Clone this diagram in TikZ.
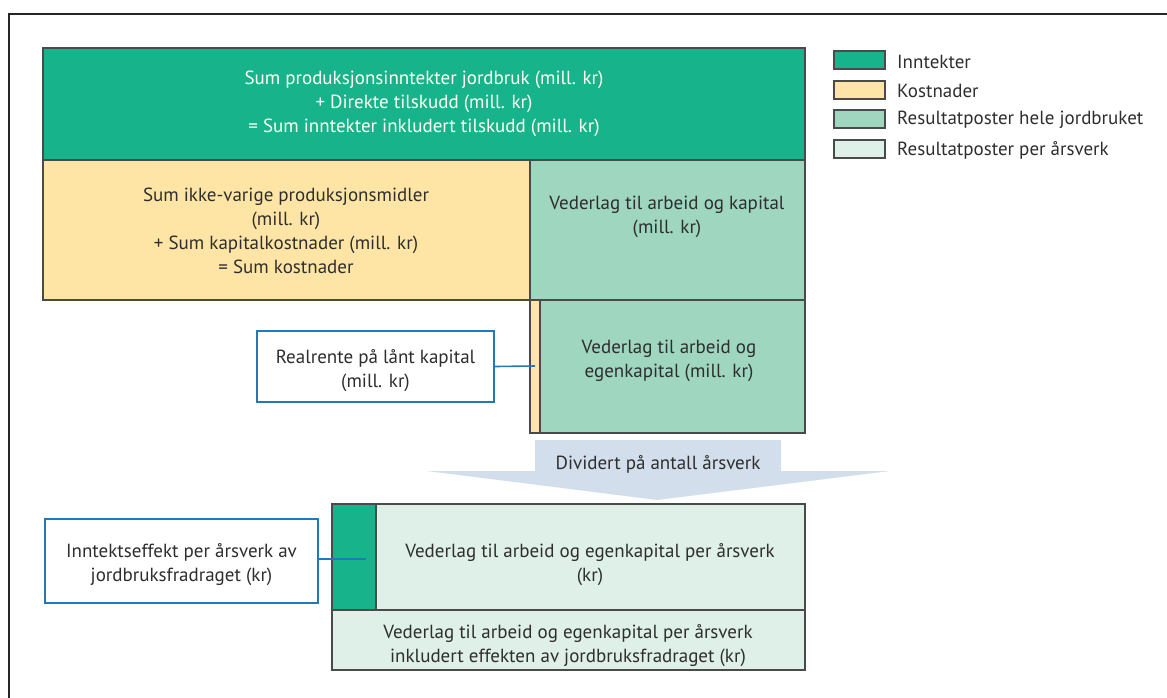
\documentclass[tikz,border=0pt]{standalone}
\usepackage{fontspec}
\setmainfont{PT Sans}
\definecolor{inntG}{HTML}{17B48C}
\definecolor{kostY}{HTML}{FFE5A5}
\definecolor{resG}{HTML}{9ED6BF}
\definecolor{perG}{HTML}{DFF0E8}
\definecolor{boxB}{HTML}{2478B5}
\definecolor{arrB}{HTML}{D3DEEC}
\definecolor{txt}{HTML}{2E2E2E}
\definecolor{edge}{HTML}{4A4A4A}
\begin{document}
\begin{tikzpicture}[x=1pt,y=-1pt,
  blk/.style={draw=edge,line width=1.2pt},
  lbl/.style={align=center,text=txt,font=\fontsize{19}{24}\selectfont,inner sep=0pt,yshift=-2.5pt},
  callout/.style={draw=boxB,line width=1.6pt,fill=white},
  conn/.style={draw=boxB,line width=1.6pt},
  swatch/.style={draw=edge,line width=1.1pt,minimum width=51pt,minimum height=18pt,inner sep=0pt},
  legtxt/.style={anchor=west,text=txt,font=\fontsize{19}{22}\selectfont,inner sep=0pt,yshift=-1.2pt}]
\useasboundingbox (0,0) rectangle (1167,697);
% outer frame
\draw[line width=2pt,draw=black!85] (9,720) -- (9,14) -- (1200,14);
% top income box
\path[blk,fill=inntG] (43,48) rectangle (805,160);
\node[lbl,text=white!94!yellow] (inc) at (424,101) {Sum produksjonsinntekter jordbruk (mill. kr)\\+ Direkte tilskudd (mill. kr)\\= Sum inntekter inkludert tilskudd (mill. kr)};
% costs
\path[blk,fill=kostY] (43,160) rectangle (530,300);
\node[lbl] (cost) at (286,228) {Sum ikke-varige produksjonsmidler\\(mill. kr)\\+ Sum kapitalkostnader (mill. kr)\\= Sum kostnader};
% vederlag arbeid og kapital
\path[blk,fill=resG] (530,160) rectangle (805,300);
\node[lbl] (vak) at (667,214) {Vederlag til arbeid og kapital\\(mill. kr)};
% lower
\path[blk,fill=kostY] (530,300) rectangle (540,433);
\path[blk,fill=resG] (540,300) rectangle (805,433);
\node[lbl] (vaek) at (669,358) {Vederlag til arbeid og\\egenkapital (mill. kr)};
% realrente callout
\node[callout,minimum width=237pt,minimum height=71pt,inner sep=0pt] (real) at (375.5,366.5) {};
\node[lbl] (realt) at (375.5,368) {Realrente på lånt kapital\\(mill. kr)};
\coordinate (realend) at (535,366);
\draw[conn] (real.east) -- (realend);
% arrow
\fill[arrB] (535,440) -- (781,440) -- (781,471) -- (890,471) -- (657,500) -- (427,471) -- (535,471) -- cycle;
\node[lbl,yshift=1.5pt] (div) at (658,463) {Dividert på antall årsverk};
% bottom block
\path[blk,fill=perG] (332,504) rectangle (805,670);
\path[blk,fill=inntG] (332,504) rectangle (376,610);
\draw[blk] (376,504) -- (376,610) -- (805,610);
\draw[blk] (332,610) -- (376,610);
\node[lbl] (vpa) at (590,562) {Vederlag til arbeid og egenkapital per årsverk\\(kr)};
\node[lbl] (vpai) at (568,643.5) {Vederlag til arbeid og egenkapital per årsverk\\inkludert effekten av jordbruksfradraget (kr)};
% inntektseffekt callout
\node[callout,minimum width=273pt,minimum height=84pt,inner sep=0pt] (ie) at (181.5,561) {};
\node[lbl] (iet) at (181.5,562) {Inntektseffekt per årsverk av\\jordbruksfradraget (kr)};
\coordinate (ieend) at (366,559);
\draw[conn] (ie.east |- ieend) -- (ieend);
% legend
\node[swatch,fill=inntG] (s1) at (859.5,60) {};
\node[legtxt] (l1) at (897,61) {Inntekter};
\node[swatch,fill=kostY] (s2) at (859.5,90) {};
\node[legtxt] (l2) at (897,90) {Kostnader};
\node[swatch,fill=resG] (s3) at (859.5,119) {};
\node[legtxt] (l3) at (897,119) {Resultatposter hele jordbruket};
\node[swatch,fill=perG] (s4) at (859.5,149) {};
\node[legtxt] (l4) at (897,149) {Resultatposter per årsverk};
\end{tikzpicture}
\end{document}
